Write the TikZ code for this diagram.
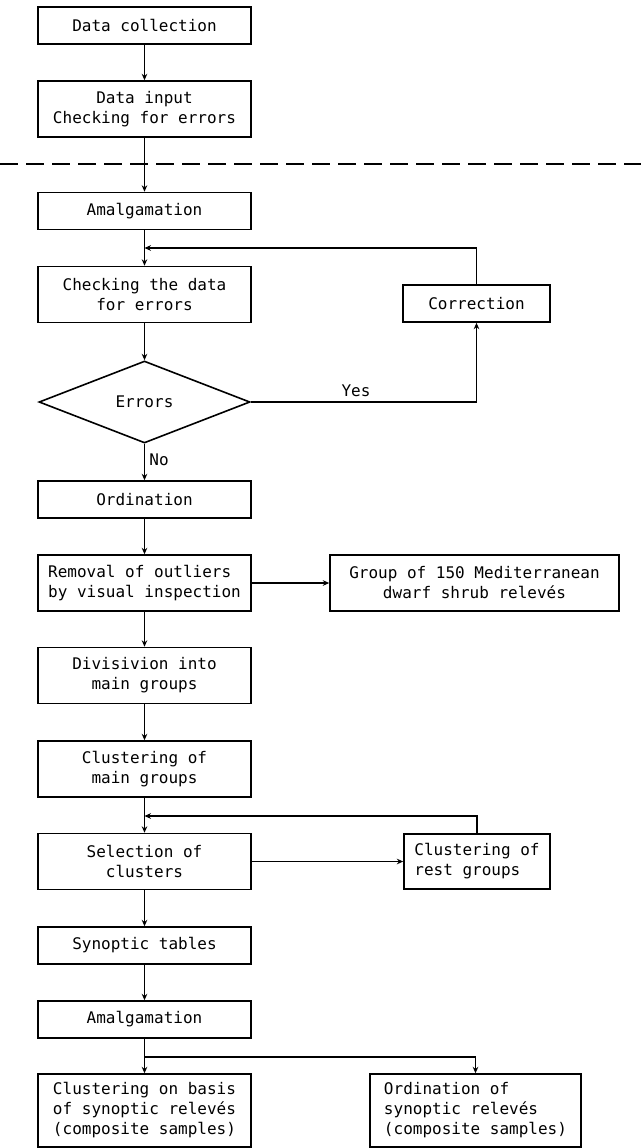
\documentclass[tikz,border=0pt]{standalone}
\usepackage{fontspec}
\setmonofont{DejaVu Sans Mono}
\usetikzlibrary{shapes.geometric,arrows.meta}
\begin{document}
\begin{tikzpicture}[x=0.5pt, y=0.5pt,
  every node/.style={font=\ttfamily\fontsize{8}{10}\selectfont, inner sep=0pt},
  box/.style={draw, line width=0.8pt, minimum width=106.5pt, minimum height=18.5pt},
  tallbox/.style={box, minimum height=28pt},
  sidebox/.style={draw, line width=0.8pt, minimum width=73.5pt, minimum height=18.5pt},
  decision/.style={draw, line width=0.8pt, diamond, minimum width=105.5pt, minimum height=41pt},
  arr/.style={line width=0.8pt, -{Stealth[length=3.2pt,width=2.8pt]}}]
\useasboundingbox (0,0) rectangle (641,-1148);
% upper part: field work
\node[box] (dcoll) at (144.5,-25.5) {Data collection};
\node[tallbox, align=center] (dinput) at (144.5,-109) {Data input\\Checking for errors};
\draw[line width=0.7pt, dash pattern=on 9pt off 4pt] (0,-164) -- (641,-164);
% processing of the data
\node[box] (amalg) at (144.5,-211) {Amalgamation};
\node[tallbox, align=center] (check) at (144.5,-294.5) {Checking the data\\for errors};
\node[sidebox] (corr) at (476.5,-303.5) {Correction};
\node[decision] (err) at (144.5,-402) {Errors};
\node[box] (ordin) at (144.5,-499.5) {Ordination};
\node[tallbox, align=left] (outl) at (144.5,-583) {Removal of outliers\\by visual inspection};
\node[draw, line width=0.8pt, minimum width=144.5pt, minimum height=28pt, align=center] (medit) at (474.5,-583) {Group of 150 Mediterranean\\dwarf shrub relevés};
\node[tallbox, align=center] (divis) at (144.5,-675.5) {Divisivion into\\main groups};
\node[tallbox, align=center] (clmain) at (144.5,-769) {Clustering of\\main groups};
\node[tallbox, align=center] (sel) at (144.5,-861.5) {Selection of\\clusters};
\node[sidebox, minimum width=73pt, minimum height=27.5pt, align=left] (clrest) at (477,-861.5) {Clustering of\\rest groups};
\node[box] (synop) at (144.5,-945.5) {Synoptic tables};
\node[box] (amalg2) at (144.5,-1019.5) {Amalgamation};
\node[box, minimum height=36.5pt, align=left] (clsyn) at (144.5,-1110.5) {Clustering on basis\\of synoptic relevés\\(composite samples)};
\node[draw, line width=0.8pt, minimum width=105.5pt, minimum height=36.5pt, align=left] (ordsyn) at (475.5,-1110.5) {Ordination of\\synoptic relevés\\(composite samples)};
% junctions of the loops
\coordinate (fb1) at (144.5,-248);
\coordinate (fb2) at (144.5,-816);
\coordinate (split) at (144.5,-1057);
% connectors
\draw[arr] (dcoll) -- (dinput);
\draw[arr] (dinput) -- (amalg);
\draw[arr] (amalg) -- (check);
\draw[arr] (corr.north) |- (fb1);
\draw[arr] (check) -- (err);
\draw[arr] (err.east) -| (corr.south);
\draw (356,-391) node {Yes};
\draw[arr] (err.south) -- (ordin);
\draw (159,-460) node {No};
\draw[arr] (ordin) -- (outl);
\draw[arr] (outl) -- (medit);
\draw[arr] (outl) -- (divis);
\draw[arr] (divis) -- (clmain);
\draw[arr] (clmain) -- (sel);
\draw[arr] (clrest.north) |- (fb2);
\draw[arr] (sel) -- (clrest);
\draw[arr] (sel) -- (synop);
\draw[arr] (synop) -- (amalg2);
\draw[arr] (amalg2) -- (clsyn);
\draw[arr] (split) -| (ordsyn.north);
\end{tikzpicture}
\end{document}
